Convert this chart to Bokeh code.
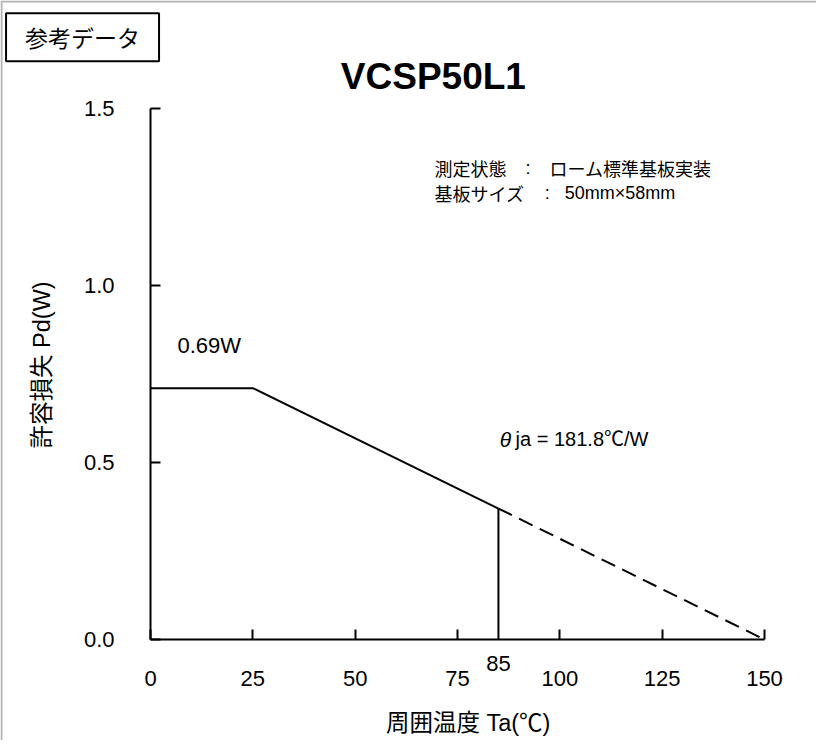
import math
from bokeh.plotting import figure
from bokeh.models import Range1d, FixedTicker, NumeralTickFormatter, Label, BoxAnnotation
from bokeh.embed import file_html
from bokeh.resources import INLINE

# ---- data ----
temp_solid = [0, 25, 85]
pd_solid = [0.71, 0.71, 0.37]
temp_dash = [85, 150]
pd_dash = [0.37, 0.0]
temp_vert = [85, 85]
pd_vert = [0.0, 0.37]
x_ticks = [0, 25, 50, 75, 100, 125, 150]
y_ticks = [0.0, 0.5, 1.0, 1.5]

LAT = "Liberation Sans"
CJK = "Noto Sans CJK JP"
MIX = "Liberation Sans, Noto Sans CJK JP"

# frame covers the whole canvas; axes are pinned at x=0 / y=0
p = figure(frame_width=816, frame_height=740,
           min_border=0, min_border_left=0, min_border_right=0,
           min_border_top=0, min_border_bottom=0,
           x_range=Range1d(-36.645, 162.705), y_range=Range1d(-0.2853, 1.8051),
           output_backend="svg", toolbar_location=None)

p.xgrid.grid_line_color = None
p.ygrid.grid_line_color = None
p.outline_line_color = None
p.background_fill_color = "white"
p.border_fill_color = "white"

for ax in (p.xaxis[0], p.yaxis[0]):
    ax.fixed_location = 0
    ax.axis_line_width = 2
    ax.axis_line_color = "black"
    ax.major_tick_in = 10
    ax.major_tick_out = 0
    ax.major_tick_line_width = 2
    ax.major_tick_line_color = "black"
    ax.minor_tick_line_color = None
    ax.major_label_text_font = LAT
    ax.major_label_text_font_size = "22px"
    ax.major_label_text_color = "black"

p.xaxis.ticker = FixedTicker(ticks=x_ticks)
p.xaxis.bounds = (0, 150)
p.xaxis.major_label_standoff = 31

p.yaxis.ticker = FixedTicker(ticks=y_ticks)
p.yaxis.bounds = (0, 1.5)
p.yaxis.formatter = NumeralTickFormatter(format="0.0")
p.yaxis.major_label_standoff = 36

p.line(temp_solid, pd_solid, line_color="black", line_width=2)
p.line(temp_dash, pd_dash, line_color="black", line_width=2, line_dash="15 8")
p.line(temp_vert, pd_vert, line_color="black", line_width=2)

def lab(x, y, text, size, font=LAT, align="left", style="normal", **kw):
    p.add_layout(Label(x=x, y=y, text=text, text_font=font, text_font_size=size,
                       text_align=align, text_baseline="middle", text_color="black",
                       text_font_style=style, **kw))

# axis titles
lab(78.4, -0.237, "周囲温度  Ta(℃)", "23.5px", font=MIX, align="center")
lab(-26.6, 0.785, "許容損失  Pd(W)", "23.5px", font=MIX, align="center", angle=math.pi / 2)

lab(69.1, 1.589, "VCSP50L1", "37px", align="center", style="bold")
lab(6.6, 0.83, "0.69W", "22px")
lab(85.3, 0.565, "θ", "21px", style="italic")
lab(89.2, 0.565, "ja = 181.8℃/W", "20px", font=MIX)
lab(85, -0.068, "85", "22px", align="center")

lab(69.4, 1.331, "測定状態", "18px", font=CJK)
lab(91.6, 1.331, ":", "18px", font=LAT)
lab(97.5, 1.331, "ローム標準基板実装", "18px", font=CJK)
lab(69.4, 1.260, "基板サイズ", "18px", font=CJK)
lab(96.3, 1.260, ":", "18px", font=LAT)
lab(101.2, 1.260, "50mm×58mm", "18px", font=MIX)

lab(-16.6, 1.701, "参考データ", "23px", font=CJK, align="center",
    border_line_color="black", border_line_width=2, padding=(19, 7))

# page frame (top and left edges visible)
p.add_layout(BoxAnnotation(left=-36.40, right=175, top=1.8023, bottom=-0.5,
                           fill_color=None, line_color="black", line_width=2))

open("out.html", "w").write(file_html(p, INLINE))
